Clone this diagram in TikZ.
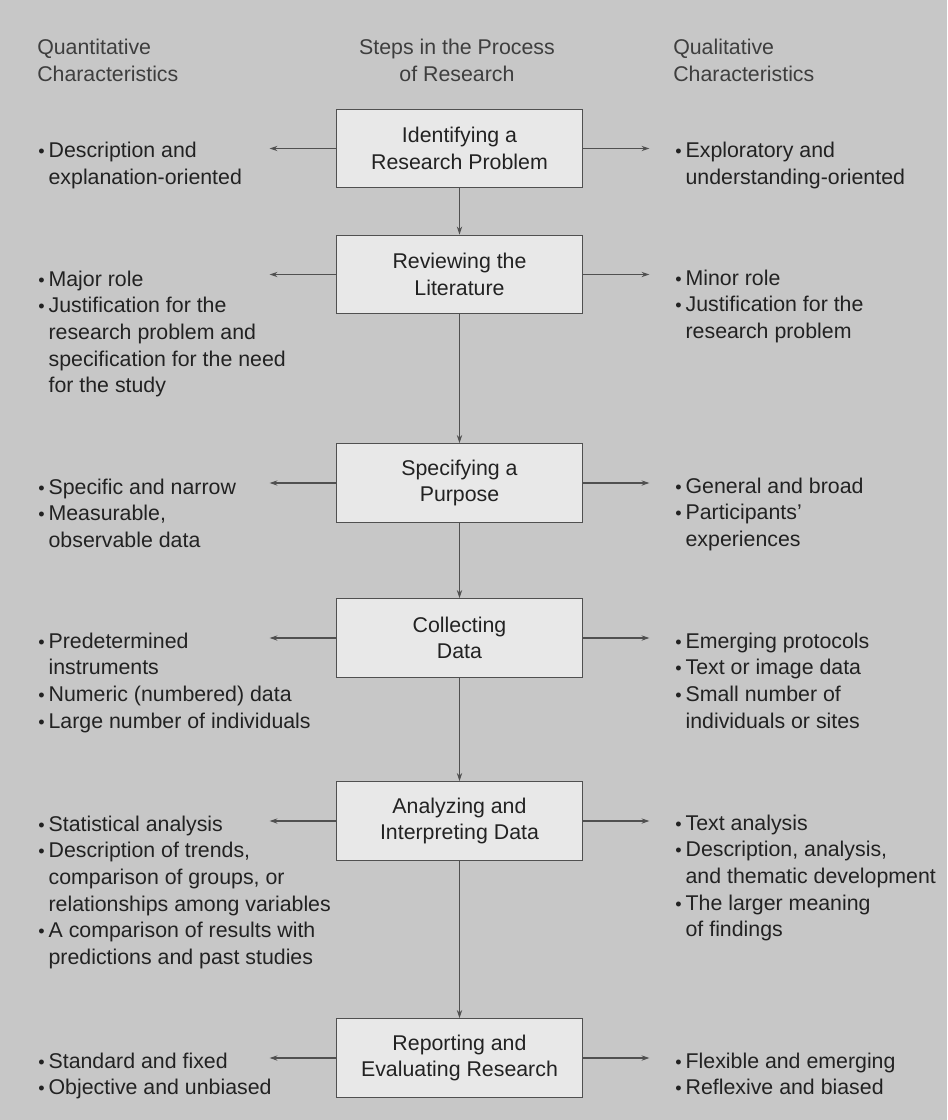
\documentclass[tikz,border=0pt]{standalone}
\usepackage{fontspec}
\setmainfont{Liberation Sans}
\usetikzlibrary{arrows.meta,positioning}

\definecolor{bggray}{RGB}{199,199,199}
\definecolor{boxfill}{RGB}{232,232,232}
\definecolor{boxline}{RGB}{80,80,80}
\definecolor{inkgray}{RGB}{34,34,34}
\definecolor{headgray}{RGB}{62,62,62}

\newcommand{\itm}{\scalebox{0.85}{\textbullet}&}
\newcommand{\bulletlist}[1]{\begin{tabular}[t]{@{}l@{\hspace{3pt}}l@{}}#1\end{tabular}}

\tikzset{
    stepbox/.style={draw=boxline,fill=boxfill,line width=0.9pt,
        minimum width=184pt,minimum height=59pt,inner sep=0pt,
        align=center,text=inkgray},
    list/.style={anchor=base west,inner sep=0pt,text=inkgray},
    head/.style={inner sep=0pt,text=headgray},
    link/.style={draw=boxline,line width=0.8pt,-{Stealth[length=6pt,width=4pt]}}
}

\begin{document}
\begin{tikzpicture}[x=0.75pt,y=-0.75pt,font=\fontsize{16}{20}\selectfont]
        % background
        \fill[bggray] (0,0) rectangle (947,1120);

        % headings
        \node[head,anchor=base west] (quanhead) at (37,55)
            {\begin{tabular}[t]{@{}l@{}}Quantitative\\Characteristics\end{tabular}};
        \node[head,anchor=base] (stephead) at (457,55)
            {\begin{tabular}[t]{@{}c@{}}Steps in the Process\\of Research\end{tabular}};
        \node[head,anchor=base west] (qualhead) at (673,55)
            {\begin{tabular}[t]{@{}l@{}}Qualitative\\Characteristics\end{tabular}};

        % steps
        \node[stepbox] (identify) at (459.5,148.5) {Identifying a\\Research Problem};
        \node[stepbox] (review) at (459.5,274.5) {Reviewing the\\Literature};
        \node[stepbox] (purpose) at (459.5,483) {Specifying a\\Purpose};
        \node[stepbox] (collect) at (459.5,638) {Collecting\\Data};
        \node[stepbox] (analyze) at (459.5,821) {Analyzing and\\Interpreting Data};
        \node[stepbox] (report) at (459.5,1058) {Reporting and\\Evaluating Research};

        \draw[link] (identify) -- (review);
        \draw[link] (review) -- (purpose);
        \draw[link] (purpose) -- (collect);
        \draw[link] (collect) -- (analyze);
        \draw[link] (analyze) -- (report);

        % side arrows
        \foreach \s in {identify,review,purpose,collect,analyze,report} {
            \coordinate (\s-quan) at ([xshift=-50pt]\s.west);
            \coordinate (\s-qual) at ([xshift=50pt]\s.east);
            \draw[link] (\s.west) -- (\s-quan);
            \draw[link] (\s.east) -- (\s-qual);
        }

        % quantitative
        \node[list] (quan1) at (38,158) {\bulletlist{\itm Description and\\ & explanation-oriented}};
        \node[list] (quan2) at (38,286) {\bulletlist{\itm Major role\\
            \itm Justification for the\\ & research problem and\\
            & specification for the need\\ & for the study}};
        \node[list] (quan3) at (38,494) {\bulletlist{\itm Specific and narrow\\
            \itm Measurable,\\ & observable data}};
        \node[list] (quan4) at (38,648) {\bulletlist{\itm Predetermined\\ & instruments\\
            \itm Numeric (numbered) data\\ \itm Large number of individuals}};
        \node[list] (quan5) at (38,831) {\bulletlist{\itm Statistical analysis\\
            \itm Description of trends,\\ & comparison of groups, or\\
            & relationships among variables\\
            \itm A comparison of results with\\ & predictions and past studies}};
        \node[list] (quan6) at (38,1068) {\bulletlist{\itm Standard and fixed\\
            \itm Objective and unbiased}};

        % qualitative
        \node[list] (qual1) at (675,158) {\bulletlist{\itm Exploratory and\\ & understanding-oriented}};
        \node[list] (qual2) at (675,285) {\bulletlist{\itm Minor role\\
            \itm Justification for the\\ & research problem}};
        \node[list] (qual3) at (675,493) {\bulletlist{\itm General and broad\\
            \itm Participants'\\ & experiences}};
        \node[list] (qual4) at (675,648) {\bulletlist{\itm Emerging protocols\\
            \itm Text or image data\\ \itm Small number of\\ & individuals or sites}};
        \node[list] (qual5) at (675,830) {\bulletlist{\itm Text analysis\\
            \itm Description, analysis,\\ & and thematic development\\
            \itm The larger meaning\\ & of findings}};
        \node[list] (qual6) at (675,1068) {\bulletlist{\itm Flexible and emerging\\
            \itm Reflexive and biased}};
\end{tikzpicture}
\end{document}
